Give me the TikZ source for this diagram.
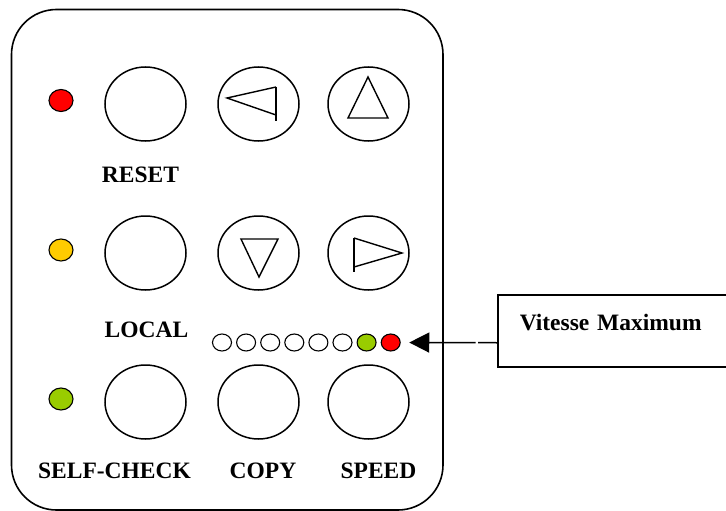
\documentclass[tikz,border=0pt]{standalone}
\usepackage{fontspec}
\setmainfont{Liberation Serif}
\usetikzlibrary{shapes.geometric,arrows.meta}
\definecolor{ledred}{HTML}{FF0000}
\definecolor{ledyellow}{HTML}{FFCC00}
\definecolor{ledgreen}{HTML}{99CC00}
\begin{document}
\begin{tikzpicture}[x=1pt,y=-1pt,
  outline/.style={line width=1.6pt},
  button/.style={ellipse,draw,line width=1.5pt,minimum width=81pt,minimum height=74pt,inner sep=0pt},
  bigled/.style={ellipse,draw,line width=1.1pt,minimum width=24pt,minimum height=22pt,inner sep=0pt},
  smallled/.style={ellipse,draw,line width=1.1pt,minimum width=19pt,minimum height=17pt,inner sep=0pt,fill=white},
  glyph/.style={line width=1.4pt,line join=miter},
  lbl/.style={font=\bfseries\fontsize{23.5}{28}\selectfont,anchor=base,inner sep=0pt},
  callout/.style={draw,line width=1.5pt,anchor=north west,minimum width=232pt,minimum height=72pt,
    inner xsep=22pt,inner ysep=0pt,text width=188pt,align=left,text height=16pt,text depth=16pt,
    font=\bfseries\fontsize{23.5}{28}\selectfont}
]
\useasboundingbox (0,0) rectangle (726,511);
% housing
\draw[outline,rounded corners=45pt] (11.5,9.5) rectangle (443,510);
% LEDs
\node[bigled,fill=ledred]    (led1) at (61,100.5) {};
\node[bigled,fill=ledyellow] (led2) at (61,250) {};
\node[bigled,fill=ledgreen]  (led3) at (61,399) {};
% buttons
\node[button] (reset)  at (145.5,104) {};
\node[button] (left)   at (258.5,104) {};
\node[button] (up)     at (368.5,104) {};
\node[button] (local)  at (145.5,253) {};
\node[button] (down)   at (258.5,253) {};
\node[button] (right)  at (368.5,253) {};
\node[button] (self)   at (145.5,402) {};
\node[button] (copy)   at (258.5,402) {};
\node[button] (speed)  at (368.5,402) {};
% glyphs
\draw[glyph] (276,87) -- (227,98) -- (276,115);
\draw[glyph] (276,87) -- (276,121);
\draw[glyph] (368,77) -- (348,118) -- (388,118) -- cycle;
\draw[glyph] (241,239) -- (278,239) -- (259,277) -- cycle;
\draw[glyph] (354,238) -- (402,253) -- (354,267);
\draw[glyph] (354,238) -- (354,272);
% labels
\node[lbl] (lreset) at (140.5,182) {RESET};
\node[lbl] (llocal) at (146.5,337) {LOCAL};
\node[lbl] (lself)  at (114.5,478) {SELF-CHECK};
\node[lbl] (lcopy)  at (263,478) {COPY};
\node[lbl] (lspeed) at (378.5,478) {SPEED};
% speed indicator
\foreach \i/\c in {1/white,2/white,3/white,4/white,5/white,6/white,7/ledgreen,8/ledred}{
  \node[smallled,fill=\c] (s\i) at ({222+(\i-1)*24.1},342.5) {};
}
% callout box
\node[callout] (vmax) at (497,294) {Vitesse Maximum};
\draw[line width=1.5pt,dash pattern=on 19pt off 2.5pt on 200pt off 0pt,
  -{Triangle[length=20pt,width=20pt]},shorten >=8.5pt]
  ([yshift=-12pt]vmax.west) -- (s8.east);
\end{tikzpicture}
\end{document}
